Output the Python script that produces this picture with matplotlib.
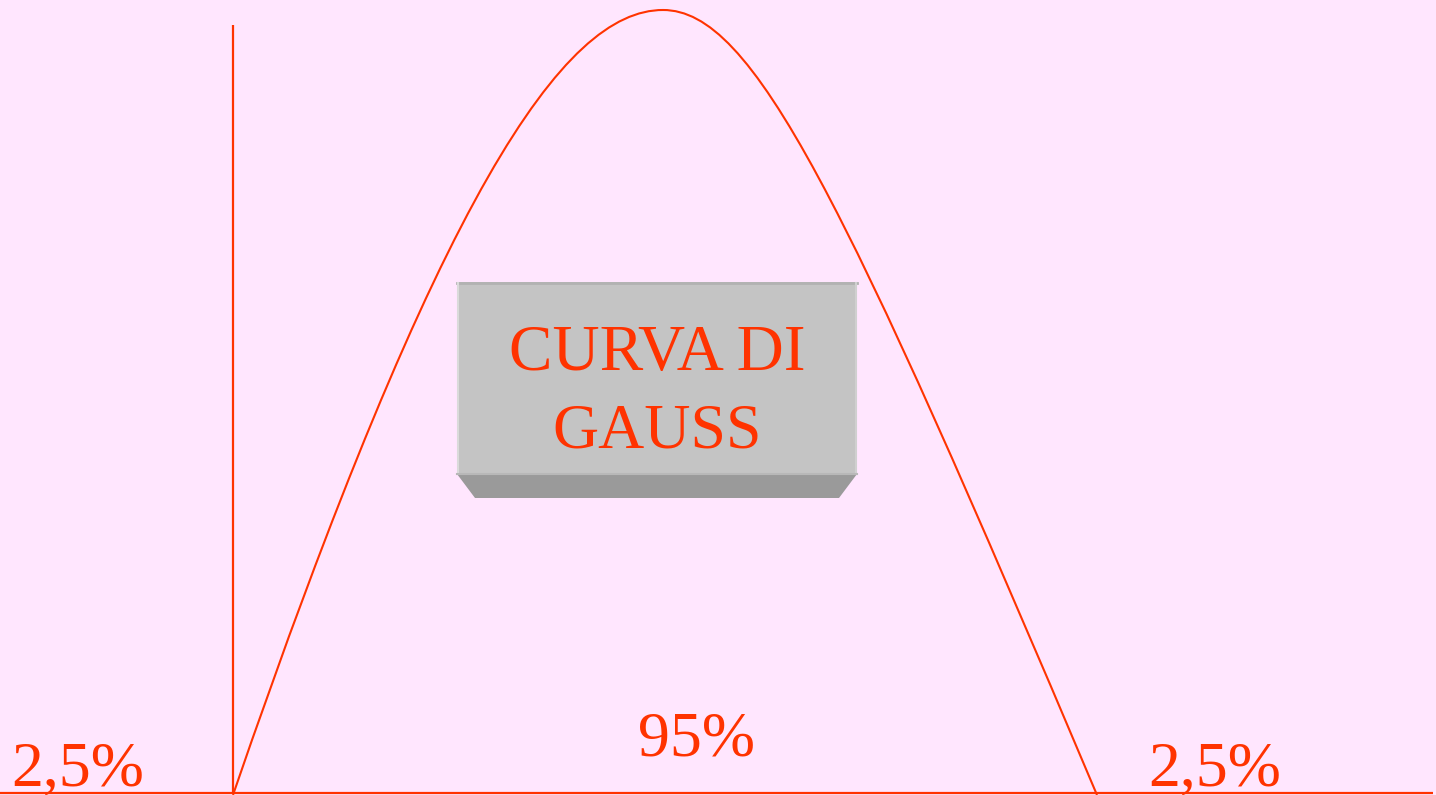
import matplotlib.pyplot as plt
from matplotlib.patches import Rectangle, Polygon, PathPatch
from matplotlib.path import Path

BG_COLOR = '#FFE6FE'
LINE_COLOR = '#FF3300'
BOX_FACE = '#C4C4C4'
BOX_BEVEL = '#9A9A9A'

# bell curve as two cubic Bezier segments: start, control, control, peak, control, control, end
curve_x = [233, 439, 563, 663, 753, 843, 1097]
curve_h = [0, 600, 785, 785, 785, 600, 0]

tail_labels = ['2,5%', '95%', '2,5%']
tail_x = [78, 697, 1215]
tail_y = [9, 40, 9]

fig = plt.figure(figsize=(14.36, 7.95), dpi=100)
fig.patch.set_facecolor(BG_COLOR)
ax = fig.add_axes([0, 0, 1, 1])
ax.set_facecolor(BG_COLOR)
ax.set_xlim(0, 1436)
ax.set_ylim(0, 795)
ax.axis('off')

# baseline and left boundary
ax.plot([0, 1433], [2, 2], color=LINE_COLOR, lw=1.6, solid_capstyle='butt')
ax.plot([233, 233], [2, 770], color=LINE_COLOR, lw=1.6, solid_capstyle='butt')

# bell curve
codes = [Path.MOVETO] + [Path.CURVE4] * 6
bell = Path(list(zip(curve_x, curve_h)), codes)
ax.add_patch(PathPatch(bell, facecolor='none', edgecolor=LINE_COLOR, lw=1.5))

# 3D label box
ax.add_patch(Polygon([(457, 321), (857, 321), (839, 297), (475, 297)],
                     closed=True, facecolor=BOX_BEVEL, edgecolor='none', zorder=3))
ax.add_patch(Rectangle((457, 321), 400, 192, facecolor=BOX_FACE,
                       edgecolor='none', zorder=3))
ax.plot([457, 857], [512, 512], color='#B2B2B2', lw=2, zorder=4)
ax.plot([458, 458], [321, 512], color='#DADADA', lw=1.5, zorder=4)
ax.plot([856, 856], [321, 512], color='#D0D0D0', lw=1.5, zorder=4)
ax.plot([457, 857], [321, 321], color='#B8B8B8', lw=1.5, zorder=4)

ax.text(657, 425, 'CURVA DI', ha='center', va='baseline', fontsize=47,
        family='Liberation Serif', color=LINE_COLOR, zorder=5)
ax.text(657, 348, 'GAUSS', ha='center', va='baseline', fontsize=46,
        family='Liberation Serif', color=LINE_COLOR, zorder=5)

for label, x, y in zip(tail_labels, tail_x, tail_y):
    ax.text(x, y, label, ha='center', va='baseline', fontsize=46,
            family='Liberation Serif', color=LINE_COLOR)

fig.savefig('out.png', dpi=100, facecolor=BG_COLOR)
